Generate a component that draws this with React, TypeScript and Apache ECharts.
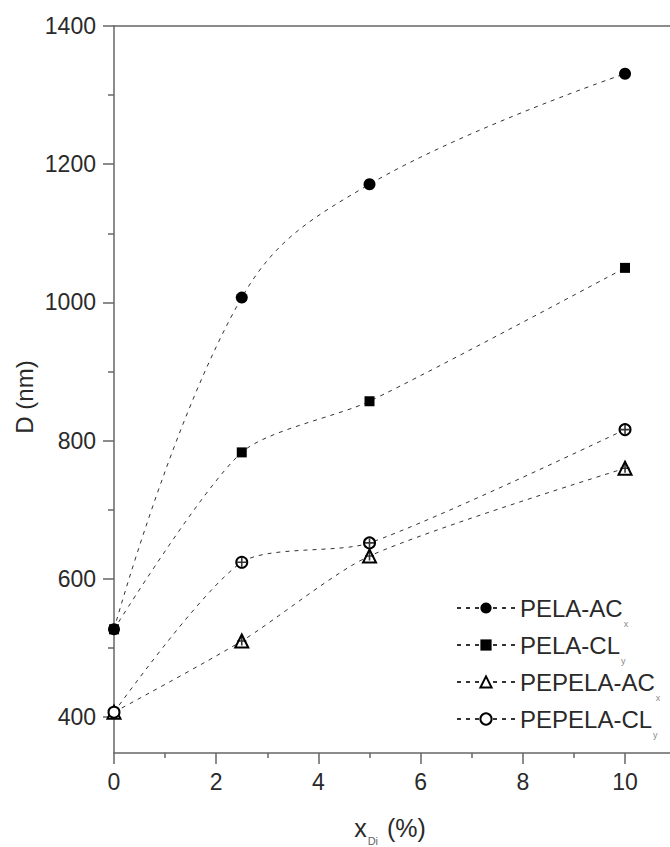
import React, { useEffect, useRef } from "react";
import * as echarts from "echarts";

const xValues = [0, 2.5, 5, 10];
const pelaAC = [527, 1007, 1171, 1331];
const pelaCL = [527, 783, 857, 1050];
const pepelaAC = [407, 510, 633, 760];
const pepelaCL = [407, 624, 652, 816];
const seriesNames = ["PELA-AC", "PELA-CL", "PEPELA-AC", "PEPELA-CL"];
const seriesSubs = ["x", "y", "x", "y"];
const xMajorTicks = [0, 2, 4, 6, 8, 10];
const xMinorTicks = [1, 3, 5, 7, 9];
const yMajorTicks = [400, 600, 800, 1000, 1200, 1400];
const yMinorTicks = [500, 700, 900, 1100, 1300];

const X_MIN = 0;
const X_MAX = 10.88;
const Y_MIN = 348;
const Y_MAX = 1400;

const FONT = "'Liberation Sans', Arial, sans-serif";
const AXIS_COLOR = "#666";
const TEXT_COLOR = "#2a2a2a";

export default function App() {
  const ref = useRef<HTMLDivElement>(null);

  useEffect(() => {
    if (!ref.current) return;
    const chart = echarts.init(ref.current, undefined, { renderer: "svg" });

    const pair = (ys: number[]) => xValues.map((x, i) => [x, ys[i]]);
    const dashed = { color: "#333", width: 1, type: [4, 5] as number[] };

    const crossData = [
      ...xValues.slice(1).map((x, i) => [x, pepelaAC[i + 1]]),
      ...xValues.slice(1).map((x, i) => [x, pepelaCL[i + 1]]),
    ];

    const axisLineStyle = { color: AXIS_COLOR, width: 1.5 };
    const plain = (v: number) => String(v);

    const option: any = {
      animation: false,
      backgroundColor: "#fff",
      grid: {
        left: 114,
        top: 26,
        width: 556,
        height: 727,
        containLabel: false,
        outerBoundsMode: "none",
      },
      xAxis: [
        {
          type: "value",
          min: X_MIN,
          max: X_MAX,
          position: "bottom",
          axisLine: { show: true, onZero: false, lineStyle: axisLineStyle },
          axisTick: {
            show: true,
            inside: false,
            length: 11,
            customValues: xMajorTicks,
            lineStyle: axisLineStyle,
          },
          axisLabel: {
            customValues: xMajorTicks,
            formatter: plain,
            margin: 17,
            fontSize: 23,
            color: TEXT_COLOR,
            fontFamily: FONT,
          },
          splitLine: { show: false },
        },
        {
          type: "value",
          min: X_MIN,
          max: X_MAX,
          position: "top",
          axisLine: { show: true, onZero: false, lineStyle: axisLineStyle },
          axisTick: { show: false },
          axisLabel: { show: false },
          splitLine: { show: false },
        },
        {
          type: "value",
          min: X_MIN,
          max: X_MAX,
          position: "bottom",
          axisLine: { show: false, onZero: false },
          axisTick: {
            show: true,
            length: 5,
            customValues: xMinorTicks,
            lineStyle: axisLineStyle,
          },
          axisLabel: { show: false },
          splitLine: { show: false },
        },
      ],
      yAxis: [
        {
          type: "value",
          min: Y_MIN,
          max: Y_MAX,
          position: "left",
          axisLine: { show: true, onZero: false, lineStyle: axisLineStyle },
          axisTick: {
            show: true,
            inside: false,
            length: 11,
            customValues: yMajorTicks,
            lineStyle: axisLineStyle,
          },
          axisLabel: {
            customValues: yMajorTicks,
            formatter: plain,
            margin: 18,
            fontSize: 23,
            color: TEXT_COLOR,
            fontFamily: FONT,
          },
          splitLine: { show: false },
        },
        {
          type: "value",
          min: Y_MIN,
          max: Y_MAX,
          position: "left",
          axisLine: { show: false, onZero: false },
          axisTick: {
            show: true,
            length: 6,
            customValues: yMinorTicks,
            lineStyle: axisLineStyle,
          },
          axisLabel: { show: false },
          splitLine: { show: false },
        },
      ],
      legend: {
        orient: "vertical",
        left: 451,
        top: 583,
        itemWidth: 58,
        itemHeight: 14,
        itemGap: -3,
        data: seriesNames,
        formatter: (name: string) => {
          const i = seriesNames.indexOf(name);
          return `{m|${name}}{s|${seriesSubs[i]}}`;
        },
        textStyle: {
          rich: {
            m: { fontSize: 24, color: TEXT_COLOR, fontFamily: FONT, lineHeight: 28 },
            s: {
              fontSize: 9,
              color: "#8a8a8a",
              fontFamily: FONT,
              lineHeight: 11,
              padding: [31, 0, 0, 1],
            },
          },
        },
      },
      series: [
        {
          type: "line",
          name: seriesNames[0],
          data: pair(pelaAC),
          smooth: 0.4,
          symbol: "circle",
          symbolSize: 12,
          itemStyle: { color: "#000" },
          lineStyle: dashed,
          z: 3,
        },
        {
          type: "line",
          name: seriesNames[1],
          data: pair(pelaCL),
          smooth: 0.25,
          symbol: "rect",
          symbolSize: 10,
          itemStyle: { color: "#000" },
          lineStyle: dashed,
          z: 3,
        },
        {
          type: "line",
          name: seriesNames[2],
          data: pair(pepelaAC),
          smooth: 0.25,
          symbol: "emptyTriangle",
          symbolSize: 13,
          itemStyle: { color: "#000", borderWidth: 1.2 },
          lineStyle: dashed,
          z: 3,
        },
        {
          type: "line",
          name: seriesNames[3],
          data: pair(pepelaCL),
          smooth: 0.25,
          symbol: "emptyCircle",
          symbolSize: 11,
          itemStyle: { color: "#000", borderWidth: 1.2 },
          lineStyle: dashed,
          z: 3,
        },
        {
          type: "scatter",
          name: "err",
          data: crossData,
          symbol: "path://M5 0L5 10M0 5L10 5",
          symbolSize: 9,
          silent: true,
          itemStyle: { color: "none", borderColor: "#000", borderWidth: 1.6 },
          z: 4,
        },
      ],
      graphic: [
        {
          type: "text",
          x: 24,
          y: 397,
          rotation: Math.PI / 2,
          style: {
            text: "D (nm)",
            font: `24px ${FONT}`,
            fill: TEXT_COLOR,
            align: "center",
            verticalAlign: "middle",
          },
        },
        {
          type: "text",
          x: 390,
          y: 828,
          style: {
            text: "{a|x}{b|Di}{c| (%)}",
            align: "center",
            verticalAlign: "middle",
            rich: {
              a: { fontSize: 25, fontFamily: FONT, fill: TEXT_COLOR, color: TEXT_COLOR, lineHeight: 28 },
              b: { fontSize: 11, fontFamily: FONT, fill: "#666", color: "#666", lineHeight: 12, padding: [26, 2, 0, 1] },
              c: { fontSize: 25, fontFamily: FONT, fill: TEXT_COLOR, color: TEXT_COLOR, lineHeight: 28 },
            },
          },
        },
      ],
    };

    chart.setOption(option);
    return () => chart.dispose();
  }, []);

  return (
    <div
      ref={ref}
      style={{ position: "absolute", left: 0, top: 0, width: 670, height: 847 }}
    />
  );
}
